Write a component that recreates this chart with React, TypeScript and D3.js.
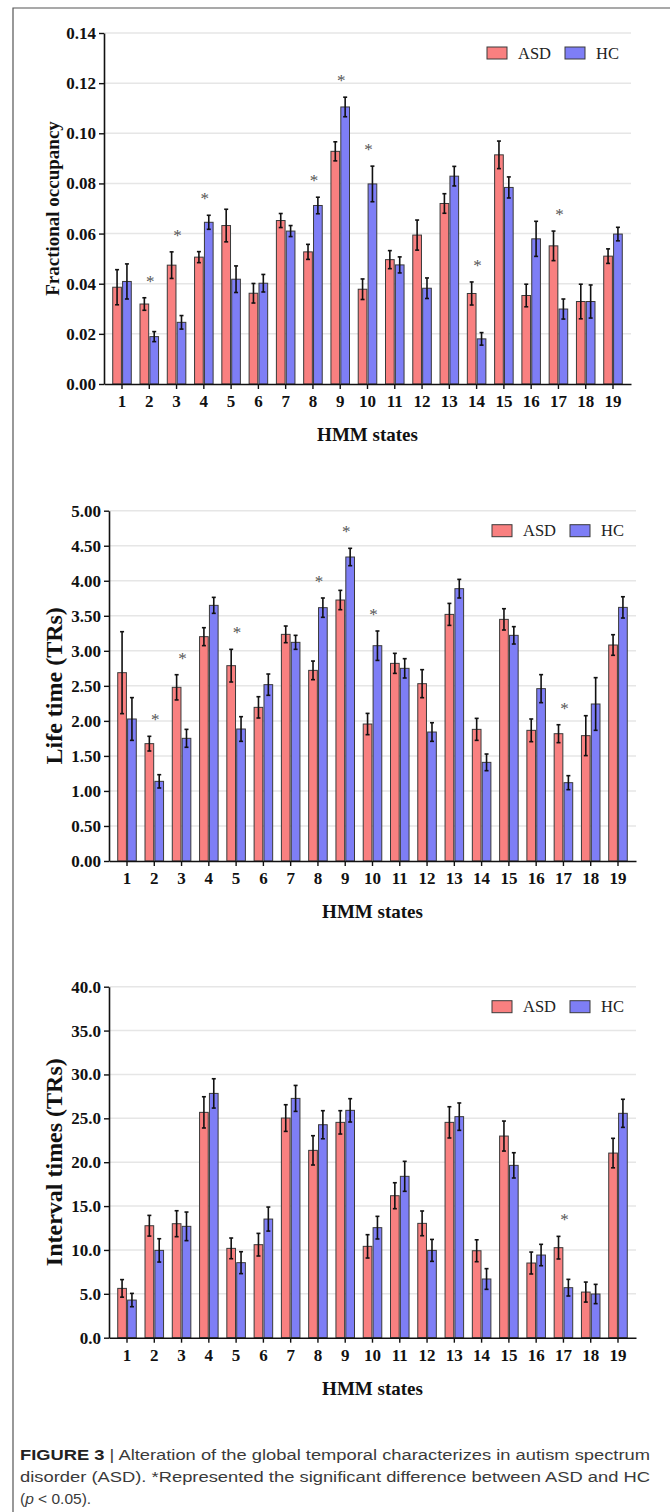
import { useEffect, useRef } from 'react'
import * as d3 from 'd3'

const states = ['1', '2', '3', '4', '5', '6', '7', '8', '9', '10', '11', '12', '13', '14', '15', '16', '17', '18', '19']
const groups = ['ASD', 'HC']

// Fractional occupancy
const occAsd = [0.0386, 0.0319, 0.0474, 0.0506, 0.0632, 0.0362, 0.0652, 0.0527, 0.0928, 0.0378, 0.0496, 0.0594, 0.072, 0.0361, 0.0914, 0.0353, 0.0551, 0.0329, 0.051]
const occAsdErr = [0.007, 0.0025, 0.0053, 0.0022, 0.0065, 0.0039, 0.0028, 0.003, 0.0038, 0.0041, 0.0036, 0.006, 0.0039, 0.0046, 0.0055, 0.0045, 0.0059, 0.0069, 0.0029]
const occHc = [0.0409, 0.0189, 0.0246, 0.0645, 0.0418, 0.0402, 0.061, 0.0712, 0.1105, 0.0798, 0.0475, 0.0382, 0.0829, 0.018, 0.0784, 0.0579, 0.0299, 0.0329, 0.0598]
const occHcErr = [0.007, 0.002, 0.0027, 0.0028, 0.0053, 0.0035, 0.0022, 0.0033, 0.0039, 0.0071, 0.0032, 0.0041, 0.0039, 0.0025, 0.0042, 0.007, 0.004, 0.0066, 0.0027]
const occSig = ['2', '3', '4', '8', '9', '10', '14', '17']
const occTicks = [0, 0.02, 0.04, 0.06, 0.08, 0.1, 0.12, 0.14]

// Life time (TRs)
const lifeAsd = [2.688, 1.675, 2.479, 3.202, 2.788, 2.193, 3.235, 2.721, 3.725, 1.955, 2.821, 2.531, 3.52, 1.879, 3.449, 1.865, 1.817, 1.789, 3.083]
const lifeAsdErr = [0.585, 0.105, 0.18, 0.128, 0.233, 0.152, 0.119, 0.133, 0.138, 0.152, 0.143, 0.2, 0.157, 0.157, 0.152, 0.162, 0.128, 0.285, 0.147]
const lifeHc = [2.027, 1.137, 1.751, 3.649, 1.884, 2.517, 3.121, 3.616, 4.339, 3.073, 2.75, 1.841, 3.887, 1.408, 3.221, 2.46, 1.118, 2.241, 3.62]
const lifeHcErr = [0.305, 0.095, 0.128, 0.114, 0.176, 0.152, 0.1, 0.138, 0.124, 0.21, 0.138, 0.133, 0.133, 0.119, 0.124, 0.2, 0.1, 0.376, 0.152]
const lifeSig = ['2', '3', '5', '8', '9', '10', '17']
const lifeTicks = [0, 0.5, 1, 1.5, 2, 2.5, 3, 3.5, 4, 4.5, 5]

// Interval times (TRs)
const intAsd = [5.62, 12.76, 12.99, 25.68, 10.18, 10.6, 25.03, 21.35, 24.54, 10.41, 16.18, 13.03, 24.54, 9.91, 22.98, 8.51, 10.26, 5.2, 21.04]
const intAsdErr = [1.0, 1.18, 1.48, 1.78, 1.18, 1.29, 1.52, 1.67, 1.33, 1.33, 1.48, 1.41, 1.78, 1.25, 1.71, 1.25, 1.29, 1.14, 1.68]
const intHc = [4.29, 9.95, 12.69, 27.84, 8.55, 13.52, 27.27, 24.27, 25.91, 12.54, 18.39, 9.95, 25.19, 6.69, 19.64, 9.42, 5.7, 4.98, 25.57]
const intHcErr = [0.76, 1.33, 1.63, 1.67, 1.25, 1.37, 1.48, 1.6, 1.33, 1.29, 1.71, 1.25, 1.56, 1.18, 1.44, 1.22, 0.95, 1.1, 1.6]
const intSig = ['17']
const intTicks = [0, 5, 10, 15, 20, 25, 30, 35, 40]

const colors = { ASD: '#f98080', HC: '#7e7ef6' }
const serif = "'Liberation Serif', 'Times New Roman', serif"
const sans = "'Liberation Sans', Arial, sans-serif"

const panels = [
  { asd: occAsd, asdErr: occAsdErr, hc: occHc, hcErr: occHcErr, sig: occSig, ticks: occTicks, fmt: '.2f', label: 'Fractional occupancy', labelSize: 19, labelX: 52, left: 104, right: 631, top: 33, bottom: 384 },
  { asd: lifeAsd, asdErr: lifeAsdErr, hc: lifeHc, hcErr: lifeHcErr, sig: lifeSig, ticks: lifeTicks, fmt: '.2f', label: 'Life time (TRs)', labelSize: 24, labelX: 54, left: 109, right: 636, top: 510.7, bottom: 861 },
  { asd: intAsd, asdErr: intAsdErr, hc: intHc, hcErr: intHcErr, sig: intSig, ticks: intTicks, fmt: '.1f', label: 'Interval times (TRs)', labelSize: 24, labelX: 54, left: 109, right: 636, top: 986.7, bottom: 1337.7 },
]

function drawPanel(svg, p) {
  const g = svg.append('g')
  const x = d3.scaleBand().domain(states).range([p.left, p.right]).paddingInner(0.32).paddingOuter(0.32)
  const xi = d3.scaleBand().domain(groups).range([0, x.bandwidth()]).paddingInner(0.12)
  const y = d3.scaleLinear().domain([0, d3.max(p.ticks)]).range([p.bottom, p.top])

  // grid
  g.selectAll('line.grid')
    .data(p.ticks.filter((t) => t > 0))
    .join('line')
    .attr('x1', p.left)
    .attr('x2', p.right)
    .attr('y1', (d) => y(d))
    .attr('y2', (d) => y(d))
    .attr('stroke', '#e6e6e6')
    .attr('stroke-width', 1.5)

  const rows = states.flatMap((s, i) => [
    { s, grp: 'ASD', v: p.asd[i], e: p.asdErr[i] },
    { s, grp: 'HC', v: p.hc[i], e: p.hcErr[i] },
  ])

  g.selectAll('rect.bar')
    .data(rows)
    .join('rect')
    .attr('x', (d) => x(d.s) + xi(d.grp))
    .attr('width', xi.bandwidth())
    .attr('y', (d) => y(d.v))
    .attr('height', (d) => y(0) - y(d.v))
    .attr('fill', (d) => colors[d.grp])
    .attr('stroke', '#3a3a3a')
    .attr('stroke-width', 1)

  const eb = g.selectAll('g.err').data(rows).join('g')
  const cx = (d) => x(d.s) + xi(d.grp) + xi.bandwidth() / 2
  eb.append('line')
    .attr('x1', cx).attr('x2', cx)
    .attr('y1', (d) => y(d.v - d.e)).attr('y2', (d) => y(d.v + d.e))
  eb.append('line')
    .attr('x1', (d) => cx(d) - 2).attr('x2', (d) => cx(d) + 2)
    .attr('y1', (d) => y(d.v + d.e)).attr('y2', (d) => y(d.v + d.e))
  eb.append('line')
    .attr('x1', (d) => cx(d) - 2).attr('x2', (d) => cx(d) + 2)
    .attr('y1', (d) => y(d.v - d.e)).attr('y2', (d) => y(d.v - d.e))
  eb.selectAll('line').attr('stroke', '#111').attr('stroke-width', 1.6)

  // significance marks
  g.selectAll('text.sig')
    .data(p.sig)
    .join('text')
    .attr('x', (s) => x(s) + x.bandwidth() / 2 + 1)
    .attr('y', (s) => {
      const i = states.indexOf(s)
      return y(Math.max(p.asd[i] + p.asdErr[i], p.hc[i] + p.hcErr[i])) - 11
    })
    .attr('text-anchor', 'middle')
    .attr('font-family', serif)
    .attr('font-size', 17)
    .attr('fill', '#555')
    .text('*')

  // axes
  const ya = g.append('g')
    .attr('transform', `translate(${p.left},0)`)
    .call(d3.axisLeft(y).tickValues(p.ticks).tickFormat(d3.format(p.fmt)).tickSize(5).tickSizeOuter(0).tickPadding(3))
  const xa = g.append('g')
    .attr('transform', `translate(0,${p.bottom})`)
    .call(d3.axisBottom(x).tickSize(5).tickSizeOuter(0).tickPadding(6))
  ;[ya, xa].forEach((a) => {
    a.attr('font-family', serif)
    a.select('.domain').attr('stroke', '#111').attr('stroke-width', 1.6)
    a.selectAll('.tick line').attr('stroke', '#111').attr('stroke-width', 1.4)
    a.selectAll('.tick text')
      .attr('font-family', serif)
      .attr('font-weight', 'bold')
      .attr('font-size', 17)
      .attr('fill', '#111')
  })

  // axis titles
  g.append('text')
    .attr('transform', `translate(${p.labelX},${(p.top + p.bottom) / 2}) rotate(-90)`)
    .attr('dy', '0.35em')
    .attr('text-anchor', 'middle')
    .attr('font-family', serif)
    .attr('font-weight', 'bold')
    .attr('font-size', p.labelSize)
    .attr('fill', '#111')
    .text(p.label)
  g.append('text')
    .attr('x', (p.left + p.right) / 2)
    .attr('y', p.bottom + 57)
    .attr('text-anchor', 'middle')
    .attr('font-family', serif)
    .attr('font-weight', 'bold')
    .attr('font-size', 19)
    .attr('fill', '#111')
    .text('HMM states')

  // legend
  const lg = g.selectAll('g.legend')
    .data(groups)
    .join('g')
    .attr('transform', (d, i) => `translate(${p.right - 144 + i * 78},${p.top + 14})`)
  lg.append('rect')
    .attr('width', 20)
    .attr('height', 12)
    .attr('fill', (d) => colors[d])
    .attr('stroke', '#3a3a3a')
  lg.append('text')
    .attr('x', 31)
    .attr('y', 11.5)
    .attr('font-family', serif)
    .attr('font-size', 16.5)
    .attr('fill', '#222')
    .text((d) => d)
}

export default function App() {
  const ref = useRef(null)

  useEffect(() => {
    const svg = d3.select(ref.current)
    svg.selectAll('*').remove()

    svg.append('rect').attr('width', 670).attr('height', 1512).attr('fill', '#fff')
    svg.append('path')
      .attr('d', 'M13,1512V8H670')
      .attr('fill', 'none')
      .attr('stroke', '#555')
      .attr('stroke-width', 1.2)

    panels.forEach((p) => drawPanel(svg, p))

    // caption
    const cap = svg.append('g').attr('font-family', sans).attr('font-size', 15.5).attr('fill', '#3a3a3a')
    const l1 = cap.append('text').attr('x', 20).attr('y', 1460).attr('textLength', 630).attr('lengthAdjust', 'spacingAndGlyphs')
    l1.append('tspan').attr('font-weight', 'bold').attr('fill', '#222').text('FIGURE 3')
    l1.append('tspan').text(' | Alteration of the global temporal characterizes in autism spectrum')
    cap.append('text').attr('x', 20).attr('y', 1482).attr('textLength', 630).attr('lengthAdjust', 'spacingAndGlyphs')
      .text('disorder (ASD). *Represented the significant difference between ASD and HC')
    const l3 = cap.append('text').attr('x', 20).attr('y', 1504)
    l3.append('tspan').text('(')
    l3.append('tspan').attr('font-style', 'italic').text('p')
    l3.append('tspan').text(' < 0.05).')
  }, [])

  return (
    <div style={{ position: 'absolute', left: 0, top: 0 }}>
      <svg ref={ref} width={670} height={1512} style={{ display: 'block' }} />
    </div>
  )
}
